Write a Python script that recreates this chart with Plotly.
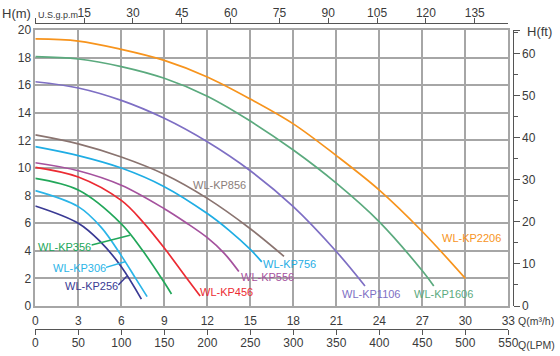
import plotly.graph_objects as go

# ---------------- data ----------------
q_2206 = [0, 3, 6, 9, 12, 15, 18, 21, 24, 27, 30]
h_2206 = [19.35, 19.2, 18.6, 17.8, 16.6, 15.0, 13.2, 10.9, 8.4, 5.4, 2.0]
q_1606 = [0, 3, 6, 9, 12, 15, 18, 21, 24, 27, 27.8]
h_1606 = [18.07, 17.9, 17.35, 16.5, 15.2, 13.4, 11.3, 8.9, 6.1, 2.55, 1.45]
q_1106 = [0, 3, 6, 9, 12, 15, 18, 21, 23]
h_1106 = [16.25, 15.8, 14.9, 13.6, 11.9, 9.8, 7.2, 3.95, 1.45]
q_856 = [0, 3, 6, 9, 12, 15, 17.35]
h_856 = [12.4, 11.75, 10.8, 9.55, 7.8, 5.6, 3.6]
q_756 = [0, 3, 6, 9, 12, 13.5, 15, 15.8]
h_756 = [11.55, 10.9, 10.0, 8.65, 6.7, 5.5, 4.1, 3.2]
q_556 = [0, 3, 6, 9, 10.5, 12, 13.2, 14.2]
h_556 = [10.38, 9.8, 8.75, 7.05, 6.05, 4.95, 3.8, 2.5]
q_456 = [0, 3, 6, 7.5, 9, 10.5, 11.5]
h_456 = [10.05, 9.35, 7.65, 6.1, 4.2, 2.1, 0.72]
q_356 = [0, 3, 6, 7.5, 9, 9.5]
h_356 = [9.25, 8.4, 5.95, 4.0, 1.7, 0.87]
q_306 = [0, 3, 4.6, 6, 7, 7.8]
h_306 = [8.36, 7.2, 5.7, 3.65, 2.0, 0.68]
q_256 = [0, 3, 4.5, 6, 7.4]
h_256 = [7.25, 6.0, 4.7, 2.85, 0.5]

models = ["WL-KP2206", "WL-KP1606", "WL-KP1106", "WL-KP856", "WL-KP756",
          "WL-KP556", "WL-KP456", "WL-KP356", "WL-KP306", "WL-KP256"]
label_q = [30.4, 28.45, 23.47, 12.87, 17.7, 16.2, 13.33, 2.07, 3.1, 3.93]
label_h = [4.93, 0.85, 0.85, 8.77, 3.04, 2.08, 1.04, 4.25, 2.73, 1.45]

# leader lines (label end -> curve) for the three small models
leader_356_q = [3.93, 6.6]
leader_356_h = [4.42, 5.12]
leader_306_q = [4.93, 6.26]
leader_306_h = [2.8, 3.2]
leader_256_q = [5.79, 6.38]
leader_256_h = [1.52, 2.15]

x_ticks_m3h = [0, 3, 6, 9, 12, 15, 18, 21, 24, 27, 30, 33]
y_ticks_m = [0, 2, 4, 6, 8, 10, 12, 14, 16, 18, 20]
lpm_ticks = [0, 50, 100, 150, 200, 250, 300, 350, 400, 450, 500, 550]
gpm_ticks = [0, 15, 30, 45, 60, 75, 90, 105, 120, 135]
gpm_text = [""] + [str(v) for v in gpm_ticks[1:]]
ft_ticks = [0, 10, 20, 30, 40, 50, 60]

Q_MAX = 33
H_MAX = 20
GPM_PER_M3H = 4.40287
FT_PER_M = 3.28084

# ---------------- styles ----------------
colors = ["#F7941D", "#5BAA7E", "#7E6FC4", "#8A7470", "#1FADE4",
          "#A5529E", "#EC2B33", "#22A75A", "#2BB5E8", "#3A3A94"]
label_colors = ["#F7941D", "#5BAA7E", "#7E6FC4", "#8A7D7A", "#1FADE4",
                "#A5529E", "#EC2B33", "#22A75A", "#2BB5E8", "#3A3A94"]
FONT = "Liberation Sans, Arial, sans-serif"
GRID = "#a6a6a6"
AX = "#555555"
TXT = "#3a3a3a"

W_FIG, H_FIG = 560, 356


def px_x(p):
    return p / W_FIG


def px_y(p):
    return 1 - p / H_FIG


XDOM = [px_x(35.3), px_x(508.3)]
YDOM = [px_y(306), px_y(30)]

series = [(q_2206, h_2206), (q_1606, h_1606), (q_1106, h_1106), (q_856, h_856),
          (q_756, h_756), (q_556, h_556), (q_456, h_456), (q_356, h_356),
          (q_306, h_306), (q_256, h_256)]

fig = go.Figure()
for (q, h), c, name in zip(series, colors, models):
    fig.add_trace(go.Scatter(x=q, y=h, mode="lines", name=name,
                             line=dict(color=c, width=1.7, shape="spline", smoothing=1.0),
                             showlegend=False, hoverinfo="skip"))

for lq, lh, c in [(leader_356_q, leader_356_h, colors[7]),
                  (leader_306_q, leader_306_h, colors[8]),
                  (leader_256_q, leader_256_h, colors[9])]:
    fig.add_trace(go.Scatter(x=lq, y=lh, mode="lines", line=dict(color=c, width=1.5),
                             showlegend=False, hoverinfo="skip"))

# dummy traces to instantiate the secondary axes
fig.add_trace(go.Scatter(x=[None], y=[None], xaxis="x2", yaxis="y", showlegend=False, hoverinfo="skip"))
fig.add_trace(go.Scatter(x=[None], y=[None], xaxis="x3", yaxis="y", showlegend=False, hoverinfo="skip"))
fig.add_trace(go.Scatter(x=[None], y=[None], xaxis="x", yaxis="y2", showlegend=False, hoverinfo="skip"))

for name, q, h, c in zip(models, label_q, label_h, label_colors):
    fig.add_annotation(x=q, y=h, xref="x", yref="y", text=name, showarrow=False,
                       font=dict(family=FONT, size=11, color=c),
                       xanchor="center", yanchor="middle")

tick_font = dict(family=FONT, size=12, color=TXT)

fig.update_layout(
    width=W_FIG, height=H_FIG,
    margin=dict(l=0, r=0, t=0, b=0, pad=0),
    paper_bgcolor="white", plot_bgcolor="white",
    showlegend=False,
    xaxis=dict(domain=XDOM, range=[0, Q_MAX], tickvals=x_ticks_m3h, ticks="",
               showgrid=True, gridcolor=GRID, gridwidth=1.6,
               showline=True, linecolor=GRID, linewidth=1.6, mirror=True,
               zeroline=False, tickfont=tick_font, ticklabelstandoff=3,
               anchor="y", automargin=False),
    yaxis=dict(domain=YDOM, range=[0, H_MAX], tickvals=y_ticks_m, ticks="",
               showgrid=True, gridcolor=GRID, gridwidth=1.6,
               showline=True, linecolor=GRID, linewidth=1.6, mirror=True,
               zeroline=False, tickfont=tick_font, anchor="x", automargin=False),
    xaxis2=dict(domain=XDOM, range=[0, 550], tickvals=lpm_ticks, overlaying="x",
                anchor="free", position=px_y(329.3), side="bottom",
                showgrid=False, zeroline=False, showline=True, linecolor=AX, linewidth=1.3,
                ticks="outside", ticklen=5, tickcolor=AX, tickwidth=1.3, tickfont=tick_font,
                ticklabelstandoff=-3, automargin=False),
    xaxis3=dict(domain=XDOM, range=[0, Q_MAX * GPM_PER_M3H], tickvals=gpm_ticks,
                ticktext=gpm_text, overlaying="x",
                anchor="free", position=px_y(23.3), side="top",
                showgrid=False, zeroline=False, showline=True, linecolor=AX, linewidth=1.3,
                ticks="outside", ticklen=5, tickcolor=AX, tickwidth=1.3, tickfont=tick_font,
                ticklabelstandoff=-4, automargin=False),
    yaxis2=dict(domain=YDOM, range=[0, H_MAX * FT_PER_M],
                tickvals=ft_ticks + [H_MAX * FT_PER_M], ticktext=[str(v) for v in ft_ticks] + [""],
                overlaying="y", anchor="free", position=px_x(512.5), side="right",
                showgrid=False, zeroline=False, showline=True, linecolor=AX, linewidth=1.3,
                ticks="outside", ticklen=6, tickcolor=AX, tickwidth=1.3, tickfont=tick_font,
                automargin=False,
                minor=dict(dtick=5, tick0=0, ticks="outside", ticklen=4, tickcolor=AX, tickwidth=1.1)),
)

ann_font = dict(family=FONT, color=TXT)
fig.add_annotation(x=px_x(16), y=px_y(14), xref="paper", yref="paper", text="H(m)",
                   showarrow=False, xanchor="center", yanchor="middle",
                   font=dict(size=13, **ann_font))
fig.add_annotation(x=px_x(36), y=px_y(15), xref="paper", yref="paper", text="U.S.g.p.m",
                   showarrow=False, xanchor="left", yanchor="middle",
                   font=dict(size=9, **ann_font))
fig.add_annotation(x=px_x(525), y=px_y(31), xref="paper", yref="paper", text="H(ft)",
                   showarrow=False, xanchor="left", yanchor="middle",
                   font=dict(size=13, **ann_font))
fig.add_annotation(x=px_x(516), y=px_y(321), xref="paper", yref="paper", text="Q(m³/h)",
                   showarrow=False, xanchor="left", yanchor="middle",
                   font=dict(size=10.5, **ann_font))
fig.add_annotation(x=px_x(516), y=px_y(344.5), xref="paper", yref="paper", text="Q(LPM)",
                   showarrow=False, xanchor="left", yanchor="middle",
                   font=dict(size=10.5, **ann_font))

fig.write_html("out.html", config={"displayModeBar": False},
               post_script="document.body.style.margin='0px';document.body.style.overflow='hidden';")
